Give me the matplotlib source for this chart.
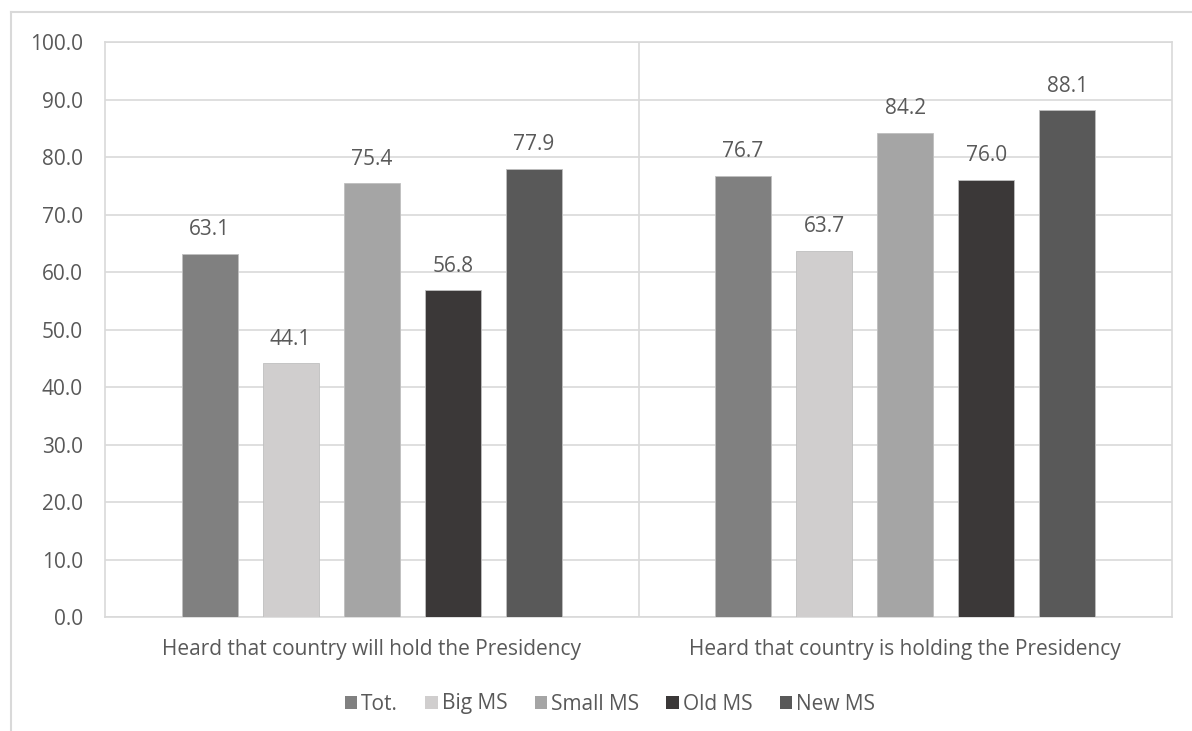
import matplotlib
matplotlib.use("Agg")
import matplotlib.pyplot as plt
from matplotlib.lines import Line2D
from matplotlib.patches import Patch
import numpy as np

categories = ["Heard that country will hold the Presidency",
              "Heard that country is holding the Presidency"]
series = ["Tot.", "Big MS", "Small MS", "Old MS", "New MS"]
tot = [63.1, 76.7]
big_ms = [44.1, 63.7]
small_ms = [75.4, 84.2]
old_ms = [56.8, 76.0]
new_ms = [77.9, 88.1]
values = [tot, big_ms, small_ms, old_ms, new_ms]
colors = ["#808080", "#D0CECE", "#A5A5A5", "#3B3838", "#595959"]
yticks = np.arange(0, 101, 10)

plt.rcParams['font.family'] = ['Open Sans', 'DejaVu Sans']
text_color = "#595959"
grid_color = "#D9D9D9"
fs = 15

W, H = 1192, 731
fig = plt.figure(figsize=(W / 100, H / 100), dpi=100)
ax = fig.add_axes([105 / W, 1 - 617 / H, (1172 - 105) / W, (617 - 42) / H])

x = np.arange(len(categories))
step = 0.152
width = 0.105
for i, (name, vals, c) in enumerate(zip(series, values, colors)):
    pos = x + (i - 2) * step
    bars = ax.bar(pos, vals, width=width, color=c, edgecolor="#BFBFBF",
                  linewidth=0.6, zorder=3, label=name)
    for b, v in zip(bars, vals):
        ax.annotate(f"{v:.1f}", (b.get_x() + b.get_width() / 2, v),
                    xytext=(0, 10), textcoords="offset points",
                    ha="center", va="bottom", fontsize=fs, color=text_color)

ax.set_xlim(-0.5, 1.5)
ax.set_ylim(0, 100)
ax.set_yticks(yticks)
ax.set_yticklabels([f"{t:.1f}" for t in yticks])
ax.set_xticks(x)
ax.set_xticklabels(categories)
ax.tick_params(axis="both", length=0, colors=text_color, labelsize=fs)
ax.tick_params(axis="y", pad=16)
ax.tick_params(axis="x", pad=16)
ax.yaxis.grid(True, color=grid_color, linewidth=1.2, zorder=0)
ax.axvline(0.5, color=grid_color, linewidth=1.2, zorder=0)
for s in ax.spines.values():
    s.set_color(grid_color)
    s.set_linewidth(1.2)

# outer chart frame
fig.add_artist(Line2D([11 / W, 1.0], [1 - 12 / H, 1 - 12 / H],
                      transform=fig.transFigure, color=grid_color, linewidth=1.5))
fig.add_artist(Line2D([11 / W, 11 / W], [1 - 12 / H, 0.0],
                      transform=fig.transFigure, color=grid_color, linewidth=1.5))

handles = [Patch(facecolor=c, edgecolor="none") for c in colors]
fig.legend(handles, series, loc="center", bbox_to_anchor=(610 / W, 1 - 704 / H),
           ncol=5, frameon=False, fontsize=fs, labelcolor=text_color,
           handlelength=0.6, handleheight=0.6, handletextpad=0.2,
           columnspacing=1.3)

fig.savefig("out.png", dpi=100, facecolor="white")
